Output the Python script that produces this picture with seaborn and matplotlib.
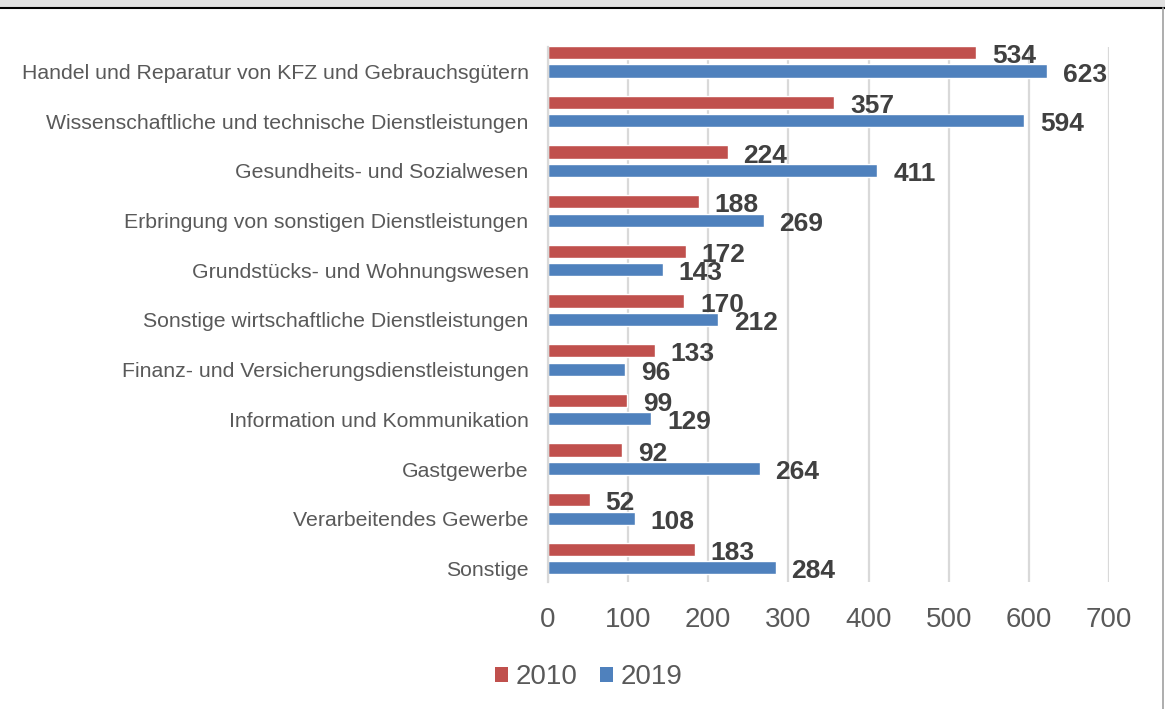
import numpy as np
import pandas as pd
import seaborn as sns
import matplotlib.pyplot as plt
import matplotlib.transforms as mtransforms
from matplotlib.patches import Rectangle, Patch
from matplotlib.lines import Line2D

# data
branchen = ["Handel und Reparatur von KFZ und Gebrauchsgütern",
            "Wissenschaftliche und technische Dienstleistungen",
            "Gesundheits- und Sozialwesen",
            "Erbringung von sonstigen Dienstleistungen",
            "Grundstücks- und Wohnungswesen",
            "Sonstige wirtschaftliche Dienstleistungen",
            "Finanz- und Versicherungsdienstleistungen",
            "Information und Kommunikation",
            "Gastgewerbe",
            "Verarbeitendes Gewerbe",
            "Sonstige"]
werte_2010 = [534, 357, 224, 188, 172, 170, 133, 99, 92, 52, 183]
werte_2019 = [623, 594, 411, 269, 143, 212, 96, 129, 264, 108, 284]
jahre = ["2010", "2019"]
x_ticks = [0, 100, 200, 300, 400, 500, 600, 700]

farben = {"2010": "#C0504D", "2019": "#4F81BD"}

df = pd.DataFrame({"Branche": branchen * 2,
                   "Jahr": ["2010"] * len(branchen) + ["2019"] * len(branchen),
                   "Wert": werte_2010 + werte_2019})

sns.set_style("white")
plt.rcParams['font.family'] = ['Liberation Sans', 'DejaVu Sans']

fig = plt.figure(figsize=(11.65, 7.09), dpi=100)
ax = fig.add_axes([548/1165, 1 - 582/709, 561/1165, 535/709])

sns.barplot(data=df, y="Branche", x="Wert", hue="Jahr", hue_order=jahre,
            palette=farben, orient="h", width=0.74, gap=0.28,
            saturation=1, ax=ax, legend=False)

# value labels
for cont, jahr in zip(ax.containers, jahre):
    for p in cont:
        w = p.get_width()
        ax.annotate(f"{int(round(w))}", xy=(w, p.get_y() + p.get_height() / 2),
                    xytext=(11.5, -2.5), textcoords="offset points",
                    va="center", ha="left", fontsize=19, fontweight="bold",
                    color="#404040")

ax.set_xlim(0, 700)
ax.set_ylim(10.47, -0.3)
ax.set_xticks(x_ticks)
ax.set_xlabel("")
ax.set_ylabel("")
ax.tick_params(axis="x", length=0, pad=18, labelsize=20, labelcolor="#595959")
ax.tick_params(axis="y", length=0, pad=14, labelsize=15.3, labelcolor="#595959")
ax.grid(axis="x", color="#d9d9d9", linewidth=1.6)
ax.set_axisbelow(True)
for s in ["top", "right", "bottom"]:
    ax.spines[s].set_visible(False)
ax.spines["left"].set_color("#d9d9d9")
ax.spines["left"].set_linewidth(1.6)

# category labels sit a bit below the group centre
shift = mtransforms.ScaledTranslation(0, -7/72, fig.dpi_scale_trans)
for lab in ax.get_yticklabels():
    lab.set_transform(lab.get_transform() + shift)

handles = [Patch(facecolor=farben[j], edgecolor="none", label=j) for j in jahre]
fig.legend(handles=handles, loc="center", bbox_to_anchor=(589/1165, 1 - 677/709),
           ncol=2, frameon=False, fontsize=20, handlelength=0.45, handleheight=0.45,
           handletextpad=0.3, columnspacing=0.8, labelcolor="#595959")

# window frame
fig.patches.append(Rectangle((0, 1 - 7/709), 1, 7/709, transform=fig.transFigure,
                             facecolor="#e0e0e0", edgecolor="none"))
fig.lines.append(Line2D([0, 1], [1 - 7.5/709] * 2, transform=fig.transFigure,
                        color="black", linewidth=1.5))
fig.lines.append(Line2D([1 - 2/1165] * 2, [0, 1 - 8/709], transform=fig.transFigure,
                        color="#a0a0a0", linewidth=1.2))

fig.savefig("out.png", dpi=100)
